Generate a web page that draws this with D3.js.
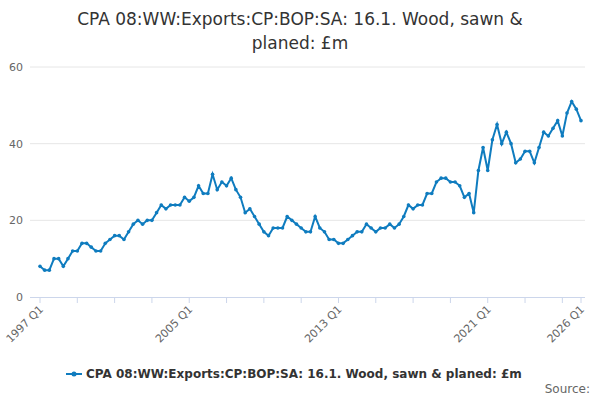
<!DOCTYPE html>
<html><head><meta charset="utf-8">
<script src="https://cdn.jsdelivr.net/npm/d3@7"></script>
<style>body{margin:0;background:#fff;font-family:"DejaVu Sans",sans-serif}</style>
</head><body><div id="chart"></div>
<script>
// Quarterly values, 1997 Q1 .. 2026 Q1
var startYear = 1997;
var values = [
  8,7,7,10, 10,8,10,12, 12,14,14,13, 12,12,14,15, 16,16,15,17,
  19,20,19,20, 20,22,24,23, 24,24,24,26, 25,26,29,27, 27,32,28,30,
  29,31,28,26, 22,23,21,19, 17,16,18,18, 18,21,20,19, 18,17,17,21,
  18,17,15,15, 14,14,15,16, 17,17,19,18, 17,18,18,19, 18,19,21,24,
  23,24,24,27, 27,30,31,31, 30,30,29,26, 27,22,33,39, 33,41,45,40,
  43,40,35,36, 38,38,35,39, 43,42,44,46, 42,48,51,49, 46
];
var labelIdx = [0, 32, 64, 96, 116];
var yTicks = [0, 20, 40, 60];
var title = ["CPA 08:WW:Exports:CP:BOP:SA: 16.1. Wood, sawn &", "planed: £m"];
var seriesName = "CPA 08:WW:Exports:CP:BOP:SA: 16.1. Wood, sawn & planed: £m";

function qLabel(i) { return (startYear + Math.floor(i / 4)) + " Q" + (i % 4 + 1); }

var svg = d3.select("#chart").append("svg").attr("width", 600).attr("height", 400);
var color = "#0f7cbf";

svg.selectAll(".title").data(title).enter().append("text")
  .attr("x", 300).attr("y", (d, i) => 25 + i * 24)
  .attr("text-anchor", "middle").attr("font-size", 17).attr("fill", "#333")
  .text(d => d);

var x = d3.scaleLinear().domain([0, values.length - 1]).range([40, 581]);
var y = d3.scaleLinear().domain([0, 60]).range([297, 67]);

// gridlines
svg.selectAll(".grid").data(yTicks.slice(1)).enter().append("line")
  .attr("x1", 30).attr("x2", 585).attr("y1", d => y(d)).attr("y2", d => y(d))
  .attr("stroke", "#e6e6e6");
svg.selectAll(".ylab").data(yTicks).enter().append("text")
  .attr("x", 23).attr("y", d => y(d) + 4).attr("text-anchor", "end")
  .attr("font-size", 11).attr("fill", "#666").text(d => d);

// x axis
svg.append("line").attr("x1", 30).attr("x2", 585).attr("y1", 297.5).attr("y2", 297.5).attr("stroke", "#ccd6eb");
var minor = d3.range(0, values.length, 8).concat([116]);
svg.selectAll(".tick").data(minor).enter().append("line")
  .attr("x1", d => x(d)).attr("x2", d => x(d)).attr("y1", 297).attr("y2", 303)
  .attr("stroke", "#ccd6eb");
svg.selectAll(".xlab").data(labelIdx).enter().append("text")
  .attr("transform", d => `translate(${x(d) + 4},${310}) rotate(-45)`)
  .attr("text-anchor", "end").attr("font-size", 11).attr("fill", "#666")
  .text(qLabel);

var line = d3.line().x((d, i) => x(i)).y(d => y(d));
svg.append("path").datum(values).attr("d", line)
  .attr("fill", "none").attr("stroke", color).attr("stroke-width", 2);
svg.selectAll(".pt").data(values).enter().append("circle")
  .attr("cx", (d, i) => x(i)).attr("cy", d => y(d)).attr("r", 1.8).attr("fill", color);

// legend
var lg = svg.append("g").attr("transform", "translate(66,374)");
lg.append("line").attr("x1", 0).attr("x2", 16).attr("stroke", color).attr("stroke-width", 2);
lg.append("circle").attr("cx", 8).attr("r", 2.5).attr("fill", color);
lg.append("text").attr("x", 20).attr("y", 4).attr("font-size", 12).attr("font-weight", "bold")
  .attr("fill", "#333").text(seriesName);

svg.append("text").attr("x", 590).attr("y", 393).attr("text-anchor", "end")
  .attr("font-size", 12).attr("fill", "#666").text("Source:");
</script></body></html>
